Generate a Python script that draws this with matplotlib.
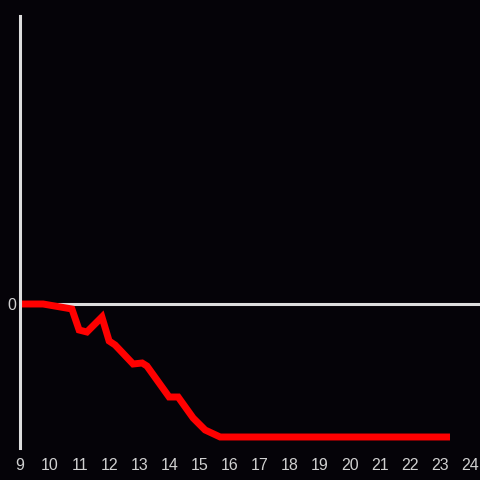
import matplotlib
matplotlib.use("Agg")
import matplotlib.pyplot as plt

# データ
xs = [9.0, 9.77, 10.73, 10.97, 11.23, 11.73, 11.97, 12.17, 12.77, 13.07, 13.23,
      13.97, 14.27, 14.77, 15.17, 15.67, 23.33]
ys = [0.0, 0.0, -0.5, -2.6, -2.8, -1.3, -3.7, -4.1, -6.0, -5.9, -6.2,
      -9.3, -9.3, -11.4, -12.6, -13.3, -13.3]
xticks = list(range(9, 25))

bg = '#050308'
fg = '#dddddd'

plt.rcParams['font.family'] = ['Liberation Sans', 'DejaVu Sans']

fig = plt.figure(figsize=(4.8, 4.8), dpi=100, facecolor=bg)
ax = fig.add_axes([20 / 480, 32 / 480, 460 / 480, 432 / 480], facecolor=bg)

ax.axhline(0, color=fg, linewidth=2.2, zorder=1)
ax.plot(xs, ys, color='#ff0000', linewidth=5, solid_joinstyle='miter',
        solid_capstyle='butt', zorder=2)

ax.set_xlim(9, 24.33)
ax.set_ylim(-14.4, 28.8)
ax.set_xticks(xticks)
ax.set_yticks([0])
ax.tick_params(length=0, colors='#d0d0d0', labelsize=11.5)
ax.tick_params(axis='x', pad=7)
ax.tick_params(axis='y', pad=3)

for s in ['top', 'right', 'bottom']:
    ax.spines[s].set_visible(False)
ax.spines['left'].set_color(fg)
ax.spines['left'].set_linewidth(2.2)

fig.savefig('out.png', dpi=100, facecolor=bg)
plt.close()
